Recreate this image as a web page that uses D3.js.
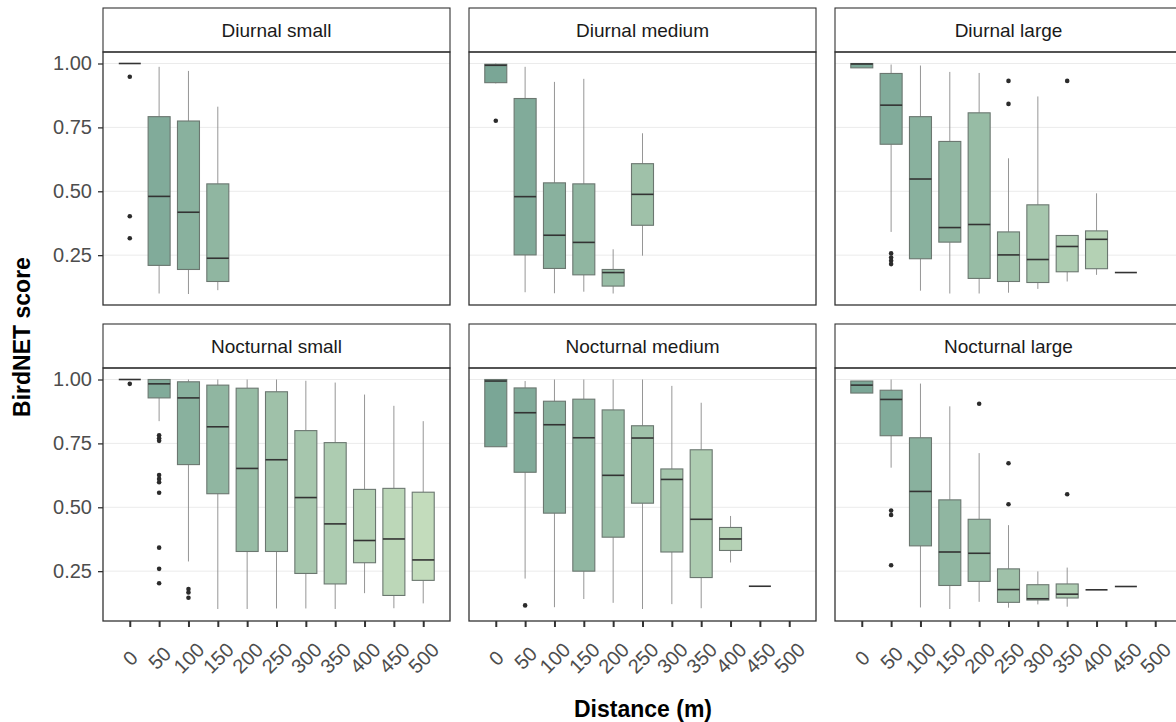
<!DOCTYPE html>
<html lang="en">
<head>
<meta charset="UTF-8">
<title>BirdNET score by distance</title>
<script src="https://d3js.org/d3.v7.min.js"></script>
<style>
  body { margin: 0; background: #fff; font-family: "Liberation Sans", Arial, sans-serif; }
  .grid line { stroke: #ebebeb; stroke-width: 1; }
</style>
</head>
<body>
<script>
// distances (x categories, metres)
const distances = [0, 50, 100, 150, 200, 250, 300, 350, 400, 450, 500];
const yTicks = [0.25, 0.50, 0.75, 1.00];
const panelNames = ["Diurnal small", "Diurnal medium", "Diurnal large",
                    "Nocturnal small", "Nocturnal medium", "Nocturnal large"];

// box stats per distance: [lower whisker, q1, median, q3, upper whisker]
const diurnalSmall = [
  [1.0, 1.0, 1.0, 1.0, 1.0],
  [0.100, 0.210, 0.480, 0.792, 0.987],
  [0.098, 0.194, 0.418, 0.775, 0.971],
  [0.113, 0.147, 0.238, 0.529, 0.831],
  null, null, null, null, null, null, null
];
const diurnalMedium = [
  [0.922, 0.925, 0.993, 0.997, 1.0],
  [0.105, 0.251, 0.479, 0.863, 0.987],
  [0.101, 0.198, 0.328, 0.533, 0.928],
  [0.107, 0.173, 0.300, 0.529, 0.940],
  [0.100, 0.129, 0.182, 0.194, 0.273],
  [0.248, 0.367, 0.488, 0.608, 0.727],
  null, null, null, null, null
];
const diurnalLarge = [
  [0.983, 0.983, 0.998, 1.0, 1.0],
  [0.341, 0.684, 0.837, 0.961, 0.996],
  [0.111, 0.236, 0.548, 0.792, 0.992],
  [0.100, 0.301, 0.358, 0.695, 0.967],
  [0.100, 0.159, 0.370, 0.807, 0.963],
  [0.103, 0.147, 0.251, 0.341, 0.629],
  [0.118, 0.143, 0.233, 0.447, 0.871],
  [0.147, 0.185, 0.284, 0.327, 0.327],
  [0.173, 0.197, 0.312, 0.345, 0.492],
  [0.182, 0.182, 0.182, 0.182, 0.182],
  null
];
const nocturnalSmall = [
  [1.0, 1.0, 1.0, 1.0, 1.0],
  [0.837, 0.928, 0.983, 1.0, 1.0],
  [0.288, 0.667, 0.928, 0.991, 1.0],
  [0.102, 0.553, 0.815, 0.978, 1.0],
  [0.102, 0.327, 0.652, 0.966, 1.0],
  [0.104, 0.327, 0.686, 0.952, 1.0],
  [0.104, 0.241, 0.538, 0.800, 0.995],
  [0.102, 0.200, 0.435, 0.753, 0.988],
  [0.164, 0.283, 0.370, 0.570, 0.941],
  [0.105, 0.155, 0.376, 0.574, 0.897],
  [0.124, 0.214, 0.294, 0.559, 0.837]
];
const nocturnalMedium = [
  [0.737, 0.737, 0.994, 1.0, 1.0],
  [0.221, 0.637, 0.870, 0.967, 0.994],
  [0.109, 0.477, 0.823, 0.915, 1.0],
  [0.141, 0.250, 0.772, 0.923, 1.0],
  [0.126, 0.383, 0.625, 0.881, 1.0],
  [0.102, 0.516, 0.771, 0.819, 1.0],
  [0.121, 0.325, 0.609, 0.650, 0.975],
  [0.105, 0.225, 0.453, 0.725, 0.909],
  [0.284, 0.331, 0.376, 0.421, 0.466],
  [0.191, 0.191, 0.191, 0.191, 0.191],
  null
];
const nocturnalLarge = [
  [0.947, 0.947, 0.978, 0.994, 0.994],
  [0.655, 0.780, 0.922, 0.958, 1.0],
  [0.108, 0.349, 0.562, 0.772, 0.984],
  [0.102, 0.194, 0.325, 0.529, 0.895],
  [0.130, 0.210, 0.320, 0.453, 0.712],
  [0.107, 0.128, 0.178, 0.259, 0.430],
  [0.120, 0.137, 0.142, 0.197, 0.249],
  [0.111, 0.145, 0.160, 0.200, 0.264],
  [0.177, 0.177, 0.177, 0.177, 0.177],
  [0.190, 0.190, 0.190, 0.190, 0.190],
  null
];

// outliers: [distance, score]
const diurnalSmallOut = [[0, 0.948], [0, 0.402], [0, 0.316]];
const diurnalMediumOut = [[0, 0.776]];
const diurnalLargeOut = [[50, 0.257], [50, 0.241], [50, 0.228], [50, 0.215],
                         [250, 0.932], [250, 0.842], [350, 0.932]];
const nocturnalSmallOut = [[0, 0.983], [50, 0.782], [50, 0.770], [50, 0.760],
                           [50, 0.626], [50, 0.611], [50, 0.598], [50, 0.557],
                           [50, 0.342], [50, 0.259], [50, 0.203],
                           [100, 0.180], [100, 0.167], [100, 0.146]];
const nocturnalMediumOut = [[50, 0.116]];
const nocturnalLargeOut = [[50, 0.487], [50, 0.470], [50, 0.273], [200, 0.905],
                           [250, 0.672], [250, 0.512], [350, 0.551]];

const panelStats = [diurnalSmall, diurnalMedium, diurnalLarge,
                    nocturnalSmall, nocturnalMedium, nocturnalLarge];
const panelOut = [diurnalSmallOut, diurnalMediumOut, diurnalLargeOut,
                  nocturnalSmallOut, nocturnalMediumOut, nocturnalLargeOut];

// layout
const W = 1176, H = 722;
const colLeft = [103, 469, 835];
const rowStripTop = [8, 324];
const stripH = 44;
const panelW = 347, panelH = 253;
const boxW = 37.5; // in distance units
const stripFont = 19, tickFont = 20;

const svg = d3.select("body").append("svg")
    .attr("width", W).attr("height", H);

// x as continuous, with ggplot-style 5% expansion around the box extents
const xlo = -boxW / 2, xhi = 500 + boxW / 2, xpad = (xhi - xlo) * 0.05;
const x = d3.scaleLinear().domain([xlo - xpad, xhi + xpad]).range([0, panelW]);
const y = d3.scaleLinear().domain([0.055, 1.045]).range([panelH, 0]);
const fill = d3.scaleLinear().domain([0, 500]).range(["#7aa696", "#c3dcbc"]);

panelNames.forEach((name, i) => {
  const col = i % 3, row = Math.floor(i / 3);
  const px = colLeft[col], sy = rowStripTop[row], py = sy + stripH;

  // strip
  svg.append("rect")
      .attr("x", px).attr("y", sy).attr("width", panelW).attr("height", stripH)
      .attr("fill", "#fff").attr("stroke", "#333").attr("stroke-width", 1.1);
  svg.append("text")
      .attr("x", px + panelW / 2).attr("y", sy + stripH / 2)
      .attr("text-anchor", "middle").attr("dominant-baseline", "central")
      .attr("font-size", stripFont).attr("fill", "#1a1a1a")
      .text(name);

  const g = svg.append("g").attr("transform", `translate(${px},${py})`);

  // grid
  g.append("g").attr("class", "grid")
    .selectAll("line").data(yTicks).join("line")
      .attr("x1", 0).attr("x2", panelW)
      .attr("y1", d => y(d)).attr("y2", d => y(d));

  const stats = panelStats[i];
  const boxes = distances.map((d, k) => ({ d, s: stats[k] })).filter(b => b.s);

  // whiskers
  g.selectAll(".wu").data(boxes).join("line")
      .attr("x1", b => x(b.d)).attr("x2", b => x(b.d))
      .attr("y1", b => y(b.s[3])).attr("y2", b => y(b.s[4]))
      .attr("stroke", "#8a8a8a").attr("stroke-width", 0.9);
  g.selectAll(".wl").data(boxes).join("line")
      .attr("x1", b => x(b.d)).attr("x2", b => x(b.d))
      .attr("y1", b => y(b.s[0])).attr("y2", b => y(b.s[1]))
      .attr("stroke", "#8a8a8a").attr("stroke-width", 0.9);

  // boxes
  g.selectAll(".box").data(boxes).join("rect")
      .attr("x", b => x(b.d - boxW / 2))
      .attr("width", b => x(b.d + boxW / 2) - x(b.d - boxW / 2))
      .attr("y", b => y(b.s[3]))
      .attr("height", b => y(b.s[1]) - y(b.s[3]))
      .attr("fill", b => fill(b.d))
      .attr("stroke", "#6b7770").attr("stroke-width", 1.1);

  // medians
  g.selectAll(".med").data(boxes).join("line")
      .attr("x1", b => x(b.d - boxW / 2)).attr("x2", b => x(b.d + boxW / 2))
      .attr("y1", b => y(b.s[2])).attr("y2", b => y(b.s[2]))
      .attr("stroke", "#333").attr("stroke-width", 1.6);

  // outliers
  g.selectAll(".out").data(panelOut[i]).join("circle")
      .attr("cx", o => x(o[0])).attr("cy", o => y(o[1]))
      .attr("r", 2.3).attr("fill", "#2b2b2b");

  // panel border
  g.append("rect")
      .attr("width", panelW).attr("height", panelH)
      .attr("fill", "none").attr("stroke", "#333").attr("stroke-width", 1.3);

  // y axis on first column
  if (col === 0) {
    const ya = g.append("g")
        .call(d3.axisLeft(y).tickValues(yTicks).tickFormat(d3.format(".2f"))
               .tickSize(5).tickPadding(6));
    ya.select(".domain").remove();
    ya.selectAll("line").attr("stroke", "#333").attr("stroke-width", 1.3);
    ya.selectAll("text").attr("font-size", tickFont).attr("fill", "#4d4d4d")
        .attr("font-family", "Liberation Sans, Arial, sans-serif");
  }

  // x axis on bottom row
  if (row === 1) {
    const xa = g.append("g").attr("transform", `translate(0,${panelH})`)
        .call(d3.axisBottom(x).tickValues(distances).tickSize(6).tickFormat(d3.format("d")));
    xa.select(".domain").remove();
    xa.selectAll("line").attr("stroke", "#333").attr("stroke-width", 2);
    xa.selectAll("text")
        .attr("font-size", tickFont).attr("fill", "#4d4d4d")
        .attr("font-family", "Liberation Sans, Arial, sans-serif")
        .attr("y", 0).attr("dy", null)
        .attr("text-anchor", "middle").attr("dominant-baseline", "central")
        .attr("transform", "translate(0,37) rotate(-45)");
  }
});

// axis titles
svg.append("text")
    .attr("x", 643).attr("y", 717)
    .attr("text-anchor", "middle")
    .attr("font-size", 23).attr("font-weight", "bold").attr("fill", "#000")
    .text("Distance (m)");
svg.append("text")
    .attr("transform", "translate(30,337) rotate(-90)")
    .attr("text-anchor", "middle")
    .attr("font-size", 23).attr("font-weight", "bold").attr("fill", "#000")
    .text("BirdNET score");
</script>
</body>
</html>
